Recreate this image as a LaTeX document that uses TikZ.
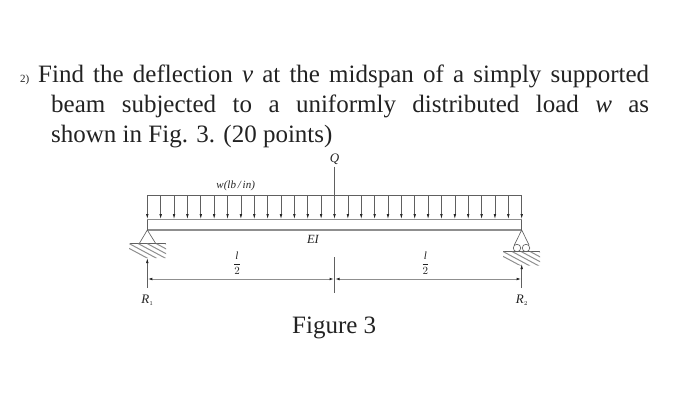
\documentclass[tikz,border=0pt]{standalone}
\usepackage{fontspec}
\setmainfont{Liberation Serif}
\usetikzlibrary{arrows.meta, positioning}
\definecolor{inkdark}{HTML}{222222}
\definecolor{inkbeam}{HTML}{8F8F8F}
\definecolor{inkthin}{HTML}{606060}
\tikzset{
  textline/.style={anchor=base west, inner sep=0pt, text=inkdark, font=\fontsize{25}{30}\selectfont},
  dimlabel/.style={inner sep=0pt, text=inkdark, font=\fontsize{11}{12}\selectfont\itshape},
  thinline/.style={draw=inkthin, line width=0.65pt},
  beamline/.style={draw=inkbeam, line width=1.4pt},
  hatchline/.style={draw=inkbeam, line width=1pt},
  headdown/.style={-{Latex[length=5pt,width=2.6pt,color=inkdark]}},
  headboth/.style={{Latex[length=5pt,width=2.6pt,color=inkdark]}-{Latex[length=5pt,width=2.6pt,color=inkdark]}},
}
\begin{document}
\begin{tikzpicture}[x=1pt, y=-1pt]
      \useasboundingbox (0,0) rectangle (700,412);
      \node[textline, font=\fontsize{11}{12}\selectfont] (NUM) at (20,82) {2)};
      \node[textline] (LINEA) at (38,82) {\makebox[611pt][s]{Find the deflection \textit{v} at the midspan of a simply supported}};
      \node[textline] (LINEB) at (51,112) {\makebox[598pt][s]{beam subjected to a uniformly distributed load \textit{w} as}};
      \node[textline] (LINEC) at (51,142) {shown in Fig. 3. (20 points)};
      \node[textline] (FIG) at (292,333) {Figure 3};

      \coordinate (TL) at (147.3,195);
      \coordinate (TR) at (521.7,195);
      \coordinate (ML) at (147.3,219.5);
      \coordinate (MR) at (521.7,219.5);
      \coordinate (BL) at (147.3,230);
      \coordinate (BR) at (521.7,230);
      \coordinate (MID) at (334.5,279);
      \coordinate (MIDT) at (334.5,257);
      \coordinate (MIDB) at (334.5,293);
      \coordinate (DL) at (147.3,279);
      \coordinate (DR) at (521.7,279);

      % load
      \draw[thinline] (TL) -- (TR);
      \foreach \i in {0,...,28} {
        \draw[thinline, headdown] (147.3+\i*13.371,195) -- (147.3+\i*13.371,219);
      }
      \draw[beamline] (ML) -- (MR);
      \draw[beamline] (BL) -- (BR);
      \draw[thinline] (ML) -- (BL);
      \draw[thinline] (MR) -- (BR);

      \node[dimlabel, font=\fontsize{13}{14}\selectfont\itshape] (Q) at (334.5,159) {Q};
      \coordinate (QE) at (334.5,195);
      \draw[thinline] (Q.south) ++(0,2) -- (QE);
      \node[dimlabel] (LOAD) at (235.7,186) {w(lb\,/\,in)};
      \node[dimlabel, font=\fontsize{12.5}{13}\selectfont\itshape] (EI) at (313,239.5) {EI};

      % left support
      \coordinate (LA) at (139.3,243.5);
      \coordinate (LB) at (155.7,243.5);
      \draw[thinline] (LA) -- (BL) -- (LB);
      \coordinate (LG1) at (129.5,243.5);
      \coordinate (LG2) at (166,243.5);
      \draw[thinline] (LG1) -- (LG2);
      \begin{scope}
        \clip (129,243.5) -- (166,243.5) -- (166,258) -- (146,258) -- (129,252) -- cycle;
        \foreach \i in {-1,...,4} {
          \draw[hatchline] (129+\i*9,243.5) -- ++(28,15);
        }
      \end{scope}

      % right support
      \coordinate (RA) at (514.3,245);
      \coordinate (RB) at (529,245);
      \draw[thinline] (RA) -- (BR) -- (RB);
      \node[circle, thinline, minimum size=7.5pt, inner sep=0pt] (ROLLA) at (517,248) {};
      \node[circle, thinline, minimum size=7.5pt, inner sep=0pt] (ROLLB) at (526,248) {};
      \coordinate (RG1) at (503,251.5);
      \coordinate (RG2) at (540,251.5);
      \draw[thinline] (RG1) -- (RG2);
      \begin{scope}
        \clip (503,251.5) -- (540,251.5) -- (540,265.5) -- (520,265.5) -- (503,260) -- cycle;
        \foreach \i in {-1,...,4} {
          \draw[hatchline] (503+\i*9,251.5) -- ++(28,15);
        }
      \end{scope}

      % dimensions
      \coordinate (R1S) at (147.3,288);
      \coordinate (R1E) at (147.3,258);
      \coordinate (R2S) at (521.7,288);
      \coordinate (R2E) at (521.7,264);
      \draw[thinline, headdown] (R1S) -- (R1E);
      \draw[thinline, headdown] (R2S) -- (R2E);
      \draw[thinline] (MIDT) -- (MIDB);
      \draw[hatchline, headboth] (DL) -- (MID);
      \draw[hatchline, headboth] (MID) -- (DR);
      \node[dimlabel] (HALFA) at (237,263) {$\displaystyle\frac{\mathit{l}}{2}$};
      \node[dimlabel] (HALFB) at (425.3,263) {$\displaystyle\frac{\mathit{l}}{2}$};
      \node[dimlabel, font=\fontsize{13}{14}\selectfont\itshape] (RONE) at (147.5,300) {R$_{\scriptscriptstyle 1}$};
      \node[dimlabel, font=\fontsize{13}{14}\selectfont\itshape] (RTWO) at (521.9,300) {R$_{\scriptscriptstyle 2}$};
\end{tikzpicture}
\end{document}
